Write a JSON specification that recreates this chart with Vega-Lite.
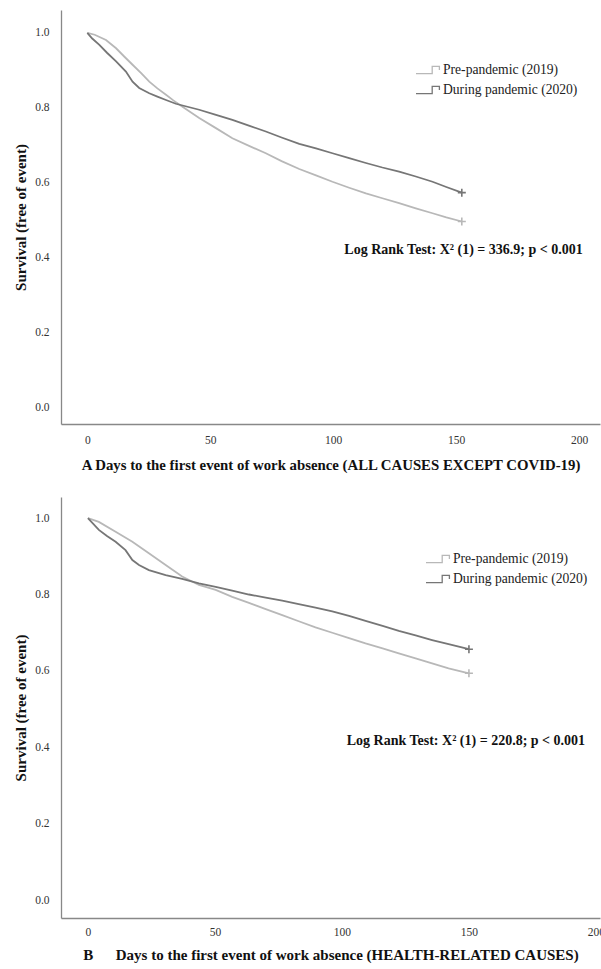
{
  "$schema": "https://vega.github.io/schema/vega-lite/v6.json",
  "padding": {"left": 13, "top": 10, "right": 0, "bottom": 0},
  "autosize": {"type": "pad"},
  "background": "white",
  "config": {
    "font": "Liberation Serif",
    "view": {"stroke": null},
    "axis": {
      "labelFont": "Liberation Serif", "labelFontSize": 11.5, "labelColor": "#333",
      "titleFont": "Liberation Serif", "titleFontWeight": "bold", "titleFontSize": 14.8, "titleColor": "#111",
      "domainColor": "#888888", "domainWidth": 1.3, "ticks": false, "grid": false
    }
  },
  "resolve": {"scale": {"color": "independent"}, "legend": {"color": "independent"}},
  "bounds": "flush",
  "spacing": 73,
  "vconcat": [
    {
      "width": 539, "height": 414,
      "layer": [
        {
          "data": {"values": [
            {"day": 0, "surv": 1.0, "group": "Pre-pandemic (2019)"},
            {"day": 3, "surv": 0.995, "group": "Pre-pandemic (2019)"},
            {"day": 7.6, "surv": 0.981, "group": "Pre-pandemic (2019)"},
            {"day": 11.7, "surv": 0.959, "group": "Pre-pandemic (2019)"},
            {"day": 15, "surv": 0.937, "group": "Pre-pandemic (2019)"},
            {"day": 18.4, "surv": 0.915, "group": "Pre-pandemic (2019)"},
            {"day": 22, "surv": 0.892, "group": "Pre-pandemic (2019)"},
            {"day": 25.2, "surv": 0.87, "group": "Pre-pandemic (2019)"},
            {"day": 28.5, "surv": 0.852, "group": "Pre-pandemic (2019)"},
            {"day": 32, "surv": 0.835, "group": "Pre-pandemic (2019)"},
            {"day": 35, "surv": 0.82, "group": "Pre-pandemic (2019)"},
            {"day": 38.7, "surv": 0.803, "group": "Pre-pandemic (2019)"},
            {"day": 45.5, "surv": 0.773, "group": "Pre-pandemic (2019)"},
            {"day": 52.3, "surv": 0.746, "group": "Pre-pandemic (2019)"},
            {"day": 59, "surv": 0.719, "group": "Pre-pandemic (2019)"},
            {"day": 66, "surv": 0.698, "group": "Pre-pandemic (2019)"},
            {"day": 72.6, "surv": 0.679, "group": "Pre-pandemic (2019)"},
            {"day": 79, "surv": 0.658, "group": "Pre-pandemic (2019)"},
            {"day": 86.2, "surv": 0.637, "group": "Pre-pandemic (2019)"},
            {"day": 93, "surv": 0.62, "group": "Pre-pandemic (2019)"},
            {"day": 99.7, "surv": 0.603, "group": "Pre-pandemic (2019)"},
            {"day": 106.5, "surv": 0.587, "group": "Pre-pandemic (2019)"},
            {"day": 113.3, "surv": 0.572, "group": "Pre-pandemic (2019)"},
            {"day": 120, "surv": 0.559, "group": "Pre-pandemic (2019)"},
            {"day": 126.8, "surv": 0.546, "group": "Pre-pandemic (2019)"},
            {"day": 133.6, "surv": 0.532, "group": "Pre-pandemic (2019)"},
            {"day": 140.4, "surv": 0.519, "group": "Pre-pandemic (2019)"},
            {"day": 146, "surv": 0.508, "group": "Pre-pandemic (2019)"},
            {"day": 152.3, "surv": 0.497, "group": "Pre-pandemic (2019)"},
            {"day": 0, "surv": 1.0, "group": "During pandemic (2020)"},
            {"day": 2, "surv": 0.985, "group": "During pandemic (2020)"},
            {"day": 4.9, "surv": 0.968, "group": "During pandemic (2020)"},
            {"day": 8, "surv": 0.947, "group": "During pandemic (2020)"},
            {"day": 11.7, "surv": 0.924, "group": "During pandemic (2020)"},
            {"day": 15.7, "surv": 0.897, "group": "During pandemic (2020)"},
            {"day": 18.4, "surv": 0.87, "group": "During pandemic (2020)"},
            {"day": 21.1, "surv": 0.853, "group": "During pandemic (2020)"},
            {"day": 25.2, "surv": 0.839, "group": "During pandemic (2020)"},
            {"day": 28.5, "surv": 0.83, "group": "During pandemic (2020)"},
            {"day": 32, "surv": 0.821, "group": "During pandemic (2020)"},
            {"day": 36, "surv": 0.811, "group": "During pandemic (2020)"},
            {"day": 45.5, "surv": 0.795, "group": "During pandemic (2020)"},
            {"day": 52, "surv": 0.782, "group": "During pandemic (2020)"},
            {"day": 59, "surv": 0.768, "group": "During pandemic (2020)"},
            {"day": 66, "surv": 0.752, "group": "During pandemic (2020)"},
            {"day": 72.6, "surv": 0.737, "group": "During pandemic (2020)"},
            {"day": 79, "surv": 0.721, "group": "During pandemic (2020)"},
            {"day": 86.2, "surv": 0.704, "group": "During pandemic (2020)"},
            {"day": 93, "surv": 0.692, "group": "During pandemic (2020)"},
            {"day": 99.7, "surv": 0.679, "group": "During pandemic (2020)"},
            {"day": 106.5, "surv": 0.666, "group": "During pandemic (2020)"},
            {"day": 113.3, "surv": 0.653, "group": "During pandemic (2020)"},
            {"day": 120, "surv": 0.641, "group": "During pandemic (2020)"},
            {"day": 126.8, "surv": 0.63, "group": "During pandemic (2020)"},
            {"day": 133.6, "surv": 0.617, "group": "During pandemic (2020)"},
            {"day": 140.4, "surv": 0.603, "group": "During pandemic (2020)"},
            {"day": 146, "surv": 0.589, "group": "During pandemic (2020)"},
            {"day": 152.3, "surv": 0.574, "group": "During pandemic (2020)"}
          ]},
          "mark": {"type": "line", "strokeWidth": 1.8},
          "encoding": {
            "x": {"field": "day", "type": "quantitative",
                  "scale": {"domain": [-10.7, 208.5], "nice": false, "zero": false},
                  "axis": {"values": [0, 50, 100, 150, 200], "labelPadding": 10, "titlePadding": 12, "labelFlush": false,
                           "title": "A Days to the first event of work absence (ALL CAUSES EXCEPT COVID-19)"}},
            "y": {"field": "surv", "type": "quantitative",
                  "scale": {"domain": [-0.043, 1.061], "nice": false, "zero": false},
                  "axis": {"values": [0, 0.2, 0.4, 0.6, 0.8, 1.0], "format": ".1f", "labelPadding": 12,
                           "title": "Survival (free of event)", "titleX": -41, "titleBaseline": "middle", "titleFontSize": 15}},
            "color": {"field": "group", "type": "nominal",
                      "scale": {"domain": ["Pre-pandemic (2019)", "During pandemic (2020)"], "range": ["#b8b8b8", "#767676"]},
                      "legend": {"orient": "none", "legendX": 354, "legendY": 47, "title": null,
                                 "symbolType": "M-1,0.3H0.35V-0.3H0.95V0", "symbolSize": 576, "symbolStrokeWidth": 1.3,
                                 "symbolFillColor": "transparent",
                                 "labelFont": "Liberation Serif", "labelFontSize": 13.6, "labelColor": "#222", "labelOffset": 2, "rowPadding": -8}}
          }
        },
        {
          "data": {"values": [
            {"day": 152.3, "surv": 0.497, "group": "Pre-pandemic (2019)"},
            {"day": 152.3, "surv": 0.574, "group": "During pandemic (2020)"}
          ]},
          "mark": {"type": "point", "shape": "M-1,0H1M0,-1V1", "size": 64, "filled": false, "strokeWidth": 1.6, "opacity": 1},
          "encoding": {
            "x": {"field": "day", "type": "quantitative"},
            "y": {"field": "surv", "type": "quantitative"},
            "color": {"field": "group", "type": "nominal", "legend": null}
          }
        },
        {
          "data": {"values": [
            {"day": 153, "surv": 0.421, "label": "Log Rank Test: X² (1) = 336.9; p < 0.001"}
          ]},
          "mark": {"type": "text", "font": "Liberation Serif", "fontWeight": "bold", "fontSize": 14, "align": "center", "baseline": "middle", "color": "#111"},
          "encoding": {
            "x": {"field": "day", "type": "quantitative"},
            "y": {"field": "surv", "type": "quantitative"},
            "text": {"field": "label"}
          }
        }
      ]
    },
    {
      "width": 539, "height": 421,
      "layer": [
        {
          "data": {"values": [
            {"day": 0, "surv": 1.0, "group": "Pre-pandemic (2019)"},
            {"day": 4.3, "surv": 0.99, "group": "Pre-pandemic (2019)"},
            {"day": 10.9, "surv": 0.964, "group": "Pre-pandemic (2019)"},
            {"day": 17.5, "surv": 0.938, "group": "Pre-pandemic (2019)"},
            {"day": 24, "surv": 0.908, "group": "Pre-pandemic (2019)"},
            {"day": 30.6, "surv": 0.877, "group": "Pre-pandemic (2019)"},
            {"day": 37.1, "surv": 0.847, "group": "Pre-pandemic (2019)"},
            {"day": 43.7, "surv": 0.825, "group": "Pre-pandemic (2019)"},
            {"day": 50.3, "surv": 0.812, "group": "Pre-pandemic (2019)"},
            {"day": 56.8, "surv": 0.794, "group": "Pre-pandemic (2019)"},
            {"day": 63.4, "surv": 0.778, "group": "Pre-pandemic (2019)"},
            {"day": 70, "surv": 0.762, "group": "Pre-pandemic (2019)"},
            {"day": 76.5, "surv": 0.746, "group": "Pre-pandemic (2019)"},
            {"day": 83, "surv": 0.73, "group": "Pre-pandemic (2019)"},
            {"day": 89.6, "surv": 0.714, "group": "Pre-pandemic (2019)"},
            {"day": 96.2, "surv": 0.7, "group": "Pre-pandemic (2019)"},
            {"day": 102.8, "surv": 0.686, "group": "Pre-pandemic (2019)"},
            {"day": 109.3, "surv": 0.672, "group": "Pre-pandemic (2019)"},
            {"day": 116, "surv": 0.659, "group": "Pre-pandemic (2019)"},
            {"day": 122.4, "surv": 0.646, "group": "Pre-pandemic (2019)"},
            {"day": 129, "surv": 0.633, "group": "Pre-pandemic (2019)"},
            {"day": 135.5, "surv": 0.62, "group": "Pre-pandemic (2019)"},
            {"day": 142, "surv": 0.607, "group": "Pre-pandemic (2019)"},
            {"day": 150, "surv": 0.594, "group": "Pre-pandemic (2019)"},
            {"day": 0, "surv": 1.0, "group": "During pandemic (2020)"},
            {"day": 4.3, "surv": 0.969, "group": "During pandemic (2020)"},
            {"day": 7.5, "surv": 0.953, "group": "During pandemic (2020)"},
            {"day": 10.9, "surv": 0.938, "group": "During pandemic (2020)"},
            {"day": 14.8, "surv": 0.916, "group": "During pandemic (2020)"},
            {"day": 17.5, "surv": 0.89, "group": "During pandemic (2020)"},
            {"day": 20.1, "surv": 0.877, "group": "During pandemic (2020)"},
            {"day": 24, "surv": 0.864, "group": "During pandemic (2020)"},
            {"day": 30.6, "surv": 0.851, "group": "During pandemic (2020)"},
            {"day": 37.1, "surv": 0.841, "group": "During pandemic (2020)"},
            {"day": 43.7, "surv": 0.829, "group": "During pandemic (2020)"},
            {"day": 50.3, "surv": 0.82, "group": "During pandemic (2020)"},
            {"day": 56.8, "surv": 0.81, "group": "During pandemic (2020)"},
            {"day": 63.4, "surv": 0.8, "group": "During pandemic (2020)"},
            {"day": 70, "surv": 0.792, "group": "During pandemic (2020)"},
            {"day": 76.5, "surv": 0.784, "group": "During pandemic (2020)"},
            {"day": 83, "surv": 0.775, "group": "During pandemic (2020)"},
            {"day": 89.6, "surv": 0.766, "group": "During pandemic (2020)"},
            {"day": 96.2, "surv": 0.756, "group": "During pandemic (2020)"},
            {"day": 102.8, "surv": 0.744, "group": "During pandemic (2020)"},
            {"day": 109.3, "surv": 0.731, "group": "During pandemic (2020)"},
            {"day": 116, "surv": 0.718, "group": "During pandemic (2020)"},
            {"day": 122.4, "surv": 0.705, "group": "During pandemic (2020)"},
            {"day": 129, "surv": 0.693, "group": "During pandemic (2020)"},
            {"day": 135.5, "surv": 0.681, "group": "During pandemic (2020)"},
            {"day": 142, "surv": 0.67, "group": "During pandemic (2020)"},
            {"day": 150, "surv": 0.657, "group": "During pandemic (2020)"}
          ]},
          "mark": {"type": "line", "strokeWidth": 1.8},
          "encoding": {
            "x": {"field": "day", "type": "quantitative",
                  "scale": {"domain": [-10.6, 201.6], "nice": false, "zero": false},
                  "axis": {"values": [0, 50, 100, 150, 200], "labelPadding": 8, "titlePadding": 10, "labelFlush": false,
                           "title": "B\u00a0\u00a0\u00a0\u00a0\u00a0\u00a0Days to the first event of work absence (HEALTH-RELATED CAUSES)", "titleFontSize": 15}},
            "y": {"field": "surv", "type": "quantitative",
                  "scale": {"domain": [-0.046, 1.055], "nice": false, "zero": false},
                  "axis": {"values": [0, 0.2, 0.4, 0.6, 0.8, 1.0], "format": ".1f", "labelPadding": 12,
                           "title": "Survival (free of event)", "titleX": -41, "titleBaseline": "middle", "titleFontSize": 15}},
            "color": {"field": "group", "type": "nominal",
                      "scale": {"domain": ["Pre-pandemic (2019)", "During pandemic (2020)"], "range": ["#b8b8b8", "#767676"]},
                      "legend": {"orient": "none", "legendX": 364, "legendY": 49, "title": null,
                                 "symbolType": "M-1,0.3H0.35V-0.3H0.95V0", "symbolSize": 576, "symbolStrokeWidth": 1.3,
                                 "symbolFillColor": "transparent",
                                 "labelFont": "Liberation Serif", "labelFontSize": 13.6, "labelColor": "#222", "labelOffset": 2, "rowPadding": -8}}
          }
        },
        {
          "data": {"values": [
            {"day": 150, "surv": 0.594, "group": "Pre-pandemic (2019)"},
            {"day": 150, "surv": 0.657, "group": "During pandemic (2020)"}
          ]},
          "mark": {"type": "point", "shape": "M-1,0H1M0,-1V1", "size": 64, "filled": false, "strokeWidth": 1.6, "opacity": 1},
          "encoding": {
            "x": {"field": "day", "type": "quantitative"},
            "y": {"field": "surv", "type": "quantitative"},
            "color": {"field": "group", "type": "nominal", "legend": null}
          }
        },
        {
          "data": {"values": [
            {"day": 148.8, "surv": 0.417, "label": "Log Rank Test: X² (1) = 220.8; p < 0.001"}
          ]},
          "mark": {"type": "text", "font": "Liberation Serif", "fontWeight": "bold", "fontSize": 14, "align": "center", "baseline": "middle", "color": "#111"},
          "encoding": {
            "x": {"field": "day", "type": "quantitative"},
            "y": {"field": "surv", "type": "quantitative"},
            "text": {"field": "label"}
          }
        }
      ]
    }
  ]
}
